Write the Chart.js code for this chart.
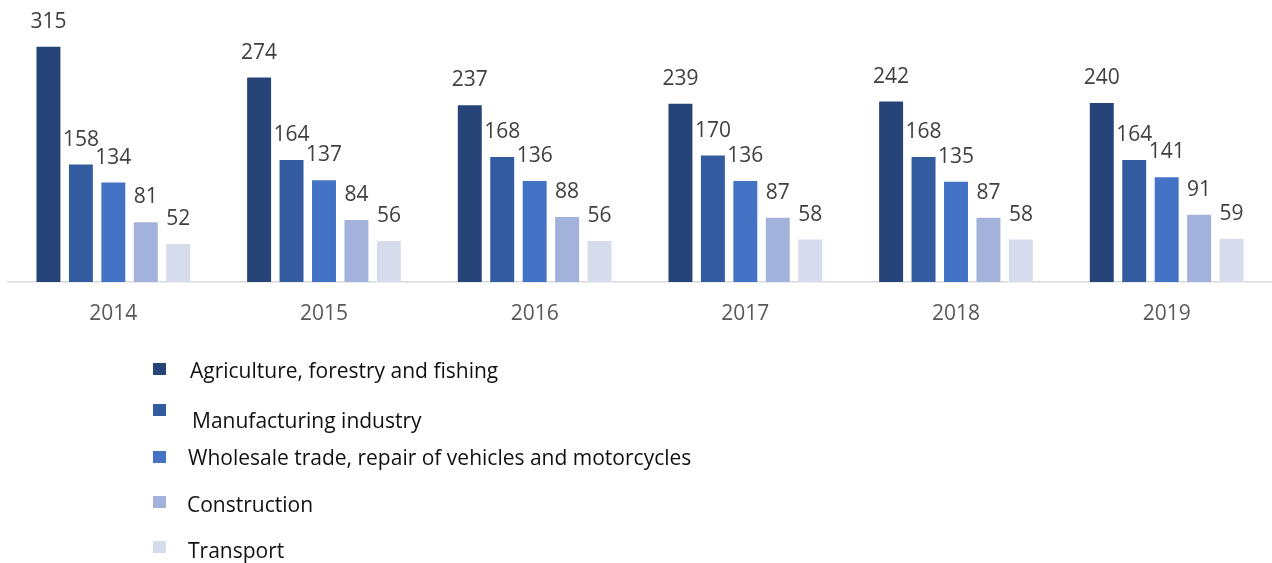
<!DOCTYPE html>
<html>
<head>
<meta charset="utf-8">
<script src="https://cdn.jsdelivr.net/npm/chart.js@4/dist/chart.umd.min.js"></script>
<style>
    html, body { margin: 0; padding: 0; background: #fff; }
    #wrap { position: relative; width: 1272px; height: 563px; }
</style>
</head>
<body>
<div id="wrap"><canvas id="sectorChart"></canvas></div>
<script>
const years = ['2014', '2015', '2016', '2017', '2018', '2019'];
const seriesNames = [
    'Agriculture, forestry and fishing',
    'Manufacturing industry',
    'Wholesale trade, repair of vehicles and motorcycles',
    'Construction',
    'Transport'
];
const agriculture = [315, 274, 237, 239, 242, 240];
const manufacturing = [158, 164, 168, 170, 168, 164];
const wholesale = [134, 137, 136, 136, 135, 141];
const construction = [81, 84, 88, 87, 87, 91];
const transport = [52, 56, 56, 58, 58, 59];

const seriesColors = ['#264478', '#335BA0', '#4472C4', '#A3B2DA', '#D6DCEC'];

// legend rows: square top, text baseline, text x (the original legend is a bit ragged)
const legendRows = [
    { box: 363, base: 378, tx: 190 },
    { box: 404, base: 428, tx: 192 },
    { box: 451, base: 465, tx: 188 },
    { box: 496, base: 512, tx: 187 },
    { box: 541, base: 558, tx: 188 }
];

const FONT = '"Open Sans", "Noto Sans", sans-serif';

const valueLabels = {
    id: 'valueLabels',
    afterDatasetsDraw(chart) {
        const ctx = chart.ctx;
        ctx.save();
        ctx.font = '21px ' + FONT;
        ctx.fillStyle = '#404040';
        ctx.textAlign = 'center';
        ctx.textBaseline = 'alphabetic';
        chart.data.datasets.forEach((ds, i) => {
            chart.getDatasetMeta(i).data.forEach((bar, j) => {
                ctx.fillText(ds.data[j], bar.x, bar.y - 18);
            });
        });
        ctx.restore();
    }
};

const sideLegend = {
    id: 'sideLegend',
    afterDraw(chart) {
        const ctx = chart.ctx;
        ctx.save();
        ctx.font = '21px ' + FONT;
        ctx.textBaseline = 'alphabetic';
        ctx.textAlign = 'left';
        chart.data.datasets.forEach((ds, i) => {
            const row = legendRows[i];
            ctx.fillStyle = ds.backgroundColor;
            ctx.fillRect(153, row.box, 13, 12);
            ctx.fillStyle = '#111';
            ctx.fillText(ds.label, row.tx, row.base);
        });
        ctx.restore();
    }
};

const seriesData = [agriculture, manufacturing, wholesale, construction, transport];

new Chart(document.getElementById('sectorChart'), {
    type: 'bar',
    data: {
        labels: years,
        datasets: seriesData.map((values, i) => ({
            label: seriesNames[i],
            data: values,
            backgroundColor: seriesColors[i],
            borderColor: 'rgba(255,255,255,0.35)',
            borderWidth: 1,
            categoryPercentage: 0.77,
            barPercentage: 0.8
        }))
    },
    options: {
        responsive: true,
        maintainAspectRatio: false,
        animation: false,
        layout: { padding: { left: 8, right: 0, top: 12, bottom: 0 } },
        plugins: {
            legend: { display: false },
            tooltip: { enabled: false }
        },
        scales: {
            x: {
                grid: { display: false },
                border: { display: true, color: '#D9D9D9', width: 1.5 },
                ticks: {
                    color: '#595959',
                    font: { family: FONT, size: 21 },
                    padding: 11,
                    maxRotation: 0
                },
                afterFit(scale) { scale.height = 281; }
            },
            y: {
                display: false,
                min: 0,
                max: 360
            }
        }
    },
    plugins: [valueLabels, sideLegend]
});
</script>
</body>
</html>
